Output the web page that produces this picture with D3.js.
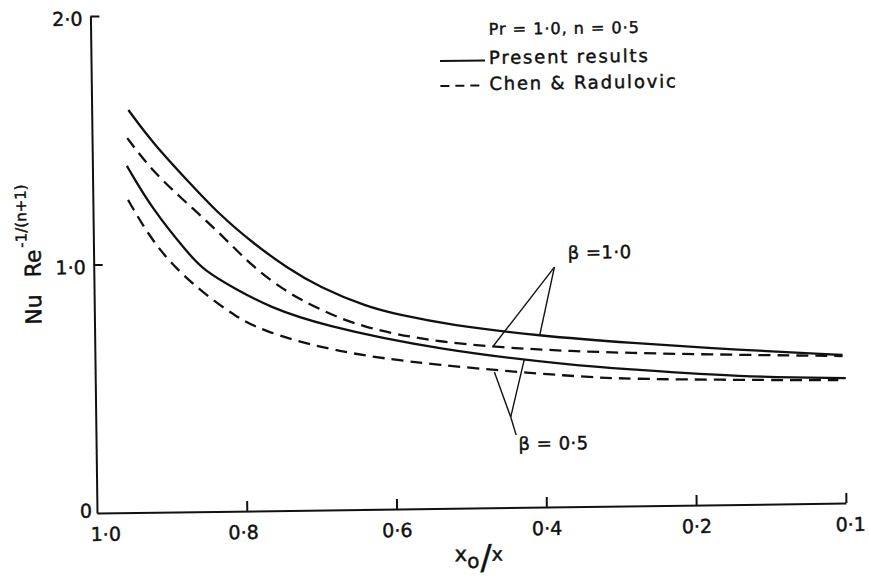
<!DOCTYPE html>
<html><head><meta charset="utf-8">
<script src="https://cdnjs.cloudflare.com/ajax/libs/d3/7.8.5/d3.min.js"></script>
<style>
body{margin:0;background:#fff}
svg{display:block;background:#fff}
text{font-family:"DejaVu Sans",sans-serif;fill:#111;stroke:#111;stroke-width:0.45px}
</style>
</head><body>
<svg id="chart" width="869" height="584"></svg>
<script>
// ---- data ----
const xTickValues = [1.0, 0.8, 0.6, 0.4, 0.2, 0.1];
const xTickLabels = ["1·0", "0·8", "0·6", "0·4", "0·2", "0·1"];
const yTickValues = [0, 1, 2];
const yTickLabels = ["0", "1·0", "2·0"];

// Present results, beta = 1.0  [x0/x, Nu Re^-1/(n+1)]
const presentBeta10 = [[0.951,1.620],[0.919,1.486],[0.874,1.335],[0.831,1.193],[0.787,1.078],[0.742,0.976],[0.699,0.897],[0.636,0.815],[0.593,0.781],[0.526,0.738],[0.406,0.689],[0.286,0.656],[0.170,0.622],[0.101,0.596]];
// Chen & Radulovic, beta = 1.0
const chenBeta10 = [[0.953,1.507],[0.919,1.369],[0.875,1.243],[0.831,1.120],[0.788,0.982],[0.743,0.879],[0.703,0.813],[0.646,0.734],[0.540,0.666],[0.406,0.632],[0.287,0.615],[0.170,0.602],[0.101,0.592]];
// Present results, beta = 0.5
const presentBeta05 = [[0.954,1.395],[0.920,1.216],[0.875,1.045],[0.854,0.972],[0.809,0.890],[0.766,0.820],[0.699,0.745],[0.540,0.637],[0.353,0.566],[0.287,0.551],[0.170,0.513],[0.099,0.503]];
// Chen & Radulovic, beta = 0.5
const chenBeta05 = [[0.953,1.258],[0.928,1.124],[0.898,1.002],[0.855,0.880],[0.810,0.781],[0.779,0.728],[0.686,0.639],[0.553,0.578],[0.354,0.522],[0.287,0.511],[0.170,0.501],[0.104,0.495]];

const legendTitle = "Pr = 1·0, n = 0·5";
const legendLabels = ["Present results", "Chen & Radulovic"];
const betaLabels = ["β =1·0", "β = 0·5"];

// annotation anchors (data units)
const beta10Label = [0.367, 0.997];
const beta10Apex = [0.385, 0.965];
const beta10Ends = [[0.469, 0.647], [0.406, 0.689]];
const beta05Label = [0.436, 0.231];
const beta05Apex = [0.446, 0.364];
const beta05Ends = [[0.467, 0.546], [0.427, 0.593], [0.439, 0.291]];

// ---- layout ----
const svg = d3.select("#chart");
const ox = 97, oy = 513, step = 149.8, topY = 16;
const x = d3.scaleLinear().domain(xTickValues).range(xTickValues.map((d, i) => ox + i * step));
const y = d3.scaleLinear().domain([0, 2]).range([oy, topY]);

const g = svg.append("g").attr("transform", `rotate(-0.76,${ox},${oy})`);

// x axis
const gx = g.append("g").attr("transform", `translate(0,${oy})`)
  .call(d3.axisBottom(x).tickValues(xTickValues)
    .tickFormat((d, i) => xTickLabels[i]).tickSizeInner(-10).tickSizeOuter(0));
gx.select(".domain").attr("stroke", "#111").attr("stroke-width", 2);
gx.selectAll(".tick line").attr("stroke", "#111").attr("stroke-width", 2)
  .filter(d => d === 1.0).remove();
gx.selectAll(".tick text").attr("y", 28).attr("dy", null)
  .attr("dx", d => d === 1.0 ? 8 : (d === 0.1 ? 4 : (d === 0.8 ? -4 : 0)))
  .style("font-size", "19px").attr("fill", "#111");

// y axis
const gy = g.append("g").attr("transform", `translate(${ox},0)`)
  .call(d3.axisLeft(y).tickValues(yTickValues)
    .tickFormat((d, i) => yTickLabels[i]).tickSizeInner(-9).tickSizeOuter(0));
gy.select(".domain").attr("stroke", "#111").attr("stroke-width", 2);
gy.selectAll(".tick line").attr("stroke", "#111").attr("stroke-width", 2)
  .filter(d => d === 0).remove();
gy.selectAll(".tick text")
  .attr("x", d => d === 0 ? -5 : -8)
  .attr("y", d => d === 0 ? 4 : 9).attr("dy", null)
  .attr("text-anchor", "end")
  .style("font-size", "19px").attr("fill", "#111");

// curves
const line = d3.line().x(d => x(d[0])).y(d => y(d[1])).curve(d3.curveBasis);
const series = [
  {data: presentBeta10, dash: null},
  {data: chenBeta10, dash: "12,7"},
  {data: presentBeta05, dash: null},
  {data: chenBeta05, dash: "12,7"}
];
g.selectAll("path.curve").data(series).join("path")
  .attr("class", "curve")
  .attr("d", d => line(d.data))
  .attr("fill", "none").attr("stroke", "#111").attr("stroke-width", 2.3)
  .attr("stroke-dasharray", d => d.dash);

// annotations
function leaders(apex, ends) {
  g.selectAll(null).data(ends).join("line")
    .attr("x1", x(apex[0])).attr("y1", y(apex[1]))
    .attr("x2", d => x(d[0])).attr("y2", d => y(d[1]))
    .attr("stroke", "#111").attr("stroke-width", 1.4);
}
leaders(beta10Apex, beta10Ends);
leaders(beta05Apex, beta05Ends);
g.append("text").attr("x", x(beta10Label[0])).attr("y", y(beta10Label[1]))
  .style("font-size", "18px").style("letter-spacing", "0.5px").text(betaLabels[0]);
g.append("text").attr("x", x(beta05Label[0])).attr("y", y(beta05Label[1]))
  .style("font-size", "18px").style("letter-spacing", "0.5px").text(betaLabels[1]);

// legend
g.append("text").attr("x", 495).attr("y", 40)
  .style("font-size", "16px").style("letter-spacing", "1px").text(legendTitle);
const legendDash = [null, "9,6"];
legendLabels.forEach((lab, i) => {
  const ly = 65.6 + i * 25;
  g.append("line").attr("x1", 446).attr("x2", 491).attr("y1", ly).attr("y2", ly)
    .attr("stroke", "#111").attr("stroke-width", 2).attr("stroke-dasharray", legendDash[i]);
  g.append("text").attr("x", 495).attr("y", ly + 3.6 + (i ? 1 : 0))
    .style("font-size", "18px").style("letter-spacing", "1.8px").text(lab);
});

// y axis title
const yt = g.append("text").attr("transform", "translate(44,324) rotate(-90)");
yt.append("tspan").style("font-size", "22px").text("Nu");
yt.append("tspan").attr("dx", 17).style("font-size", "22px").text("Re");
yt.append("tspan").attr("dx", 2).attr("dy", -14).style("font-size", "15px").text("-1/(n+1)");

// x axis title
const xt = g.append("text").attr("x", 454).attr("y", 566);
xt.append("tspan").style("font-size", "21px").text("x");
xt.append("tspan").attr("dy", 7).style("font-size", "20px").text("o");
xt.append("tspan").attr("dx", 1).attr("dy", 1).style("font-size", "34px").text("/");
xt.append("tspan").attr("dx", 0).attr("dy", -8).style("font-size", "19px").text("x");
</script>
</body></html>
